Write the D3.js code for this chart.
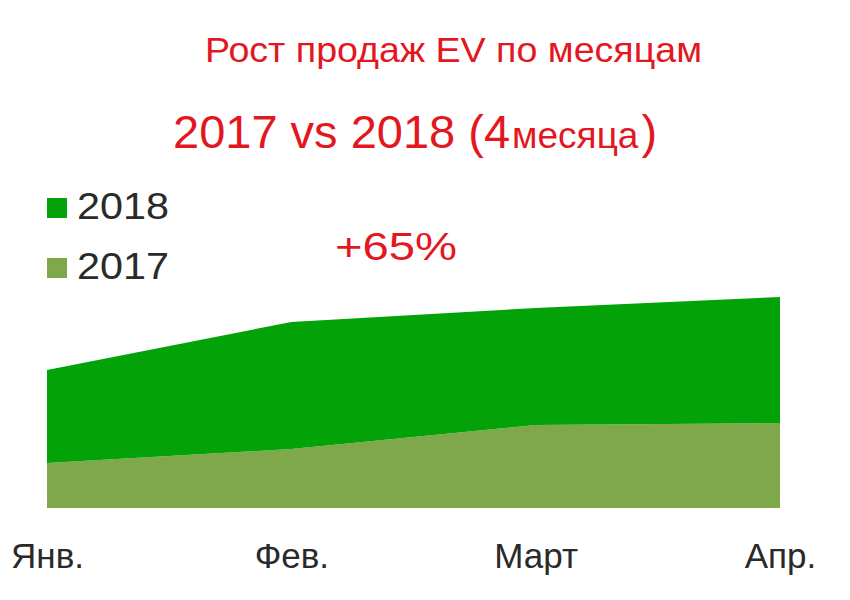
<!DOCTYPE html>
<html>
<head>
<meta charset="utf-8">
<script src="https://cdn.jsdelivr.net/npm/d3@7"></script>
<style>
  html, body { margin: 0; padding: 0; background: #fff; }
  svg { display: block; font-family: "Liberation Sans", Arial, sans-serif; }
</style>
</head>
<body>
<svg id="chart" width="850" height="600"></svg>
<script>
// ---- data ----
const months = ["Янв.", "Фев.", "Март", "Апр."];
const sales2017 = [45, 59, 83, 85];
const sales2018 = [93, 127, 117, 126];
const seriesNames = ["2017", "2018"];
const seriesColors = ["#7ea84a", "#03a209"];
const titleText = "Рост продаж EV по месяцам";
const subtitleMain = "2017 vs 2018 (4";
const subtitleSmall = "месяца";
const subtitleEnd = ")";
const growthText = "+65%";

const svg = d3.select("#chart");
const red = "#e3171f";

const table = months.map((m, i) => ({ month: m, "2017": sales2017[i], "2018": sales2018[i] }));
const stacked = d3.stack().keys(seriesNames)(table);

const x = d3.scalePoint().domain(months).range([47, 780]);
const y = d3.scaleLinear().domain([0, 250]).range([508, 258]);

const area = d3.area()
  .x(d => x(d.data.month))
  .y0(d => y(d[0]))
  .y1(d => y(d[1]));

svg.append("g").selectAll("path")
  .data(stacked)
  .join("path")
  .attr("d", area)
  .attr("fill", (d, i) => seriesColors[i]);

// x axis labels
const xAxis = d3.axisBottom(x).tickSize(0).tickPadding(0);
const gx = svg.append("g").attr("transform", "translate(0,543)").call(xAxis);
gx.select(".domain").remove();
gx.selectAll("text")
  .attr("font-size", 35)
  .attr("fill", "#2a2a2a")
  .attr("font-family", "'Liberation Sans', Arial, sans-serif")
  .attr("dy", "0.71em");

// titles
svg.append("text")
  .attr("x", 205).attr("y", 62)
  .attr("font-size", 35).attr("fill", red)
  .attr("textLength", 497).attr("lengthAdjust", "spacingAndGlyphs")
  .text(titleText);

const sub = svg.append("text")
  .attr("x", 173).attr("y", 148)
  .attr("fill", red);
sub.append("tspan").attr("font-size", 47).text(subtitleMain);
sub.append("tspan").attr("font-size", 37).attr("dx", 2).text(subtitleSmall);
sub.append("tspan").attr("font-size", 47).attr("dx", 3).text(subtitleEnd);

// growth
svg.append("text")
  .attr("x", 335).attr("y", 260)
  .attr("font-size", 38).attr("fill", red)
  .attr("textLength", 122).attr("lengthAdjust", "spacingAndGlyphs")
  .text(growthText);

// legend (2018 on top)
const legendItems = [
  { name: seriesNames[1], color: seriesColors[1], y: 198 },
  { name: seriesNames[0], color: seriesColors[0], y: 258 }
];
const lg = svg.append("g").selectAll("g").data(legendItems).join("g");
lg.append("rect")
  .attr("x", 47).attr("y", d => d.y)
  .attr("width", 20).attr("height", 20)
  .attr("fill", d => d.color);
lg.append("text")
  .attr("x", 77).attr("y", d => d.y + 21)
  .attr("font-size", 36).attr("fill", "#2a2a2a")
  .attr("textLength", 92).attr("lengthAdjust", "spacingAndGlyphs")
  .text(d => d.name);
</script>
</body>
</html>
